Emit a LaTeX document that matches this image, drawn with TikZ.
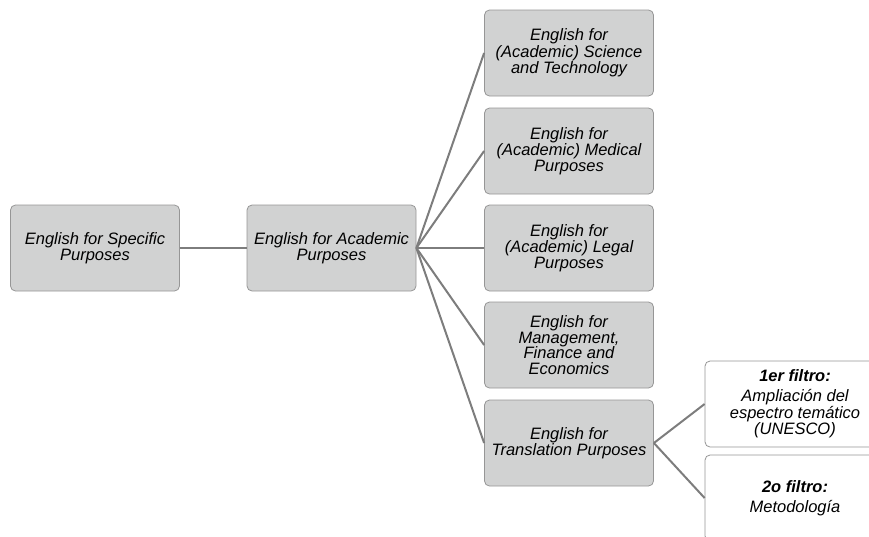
\documentclass[tikz,border=0pt]{standalone}
\usepackage{fontspec}
\setmainfont{Liberation Sans}
\usepackage{tikz}
\usetikzlibrary{calc}
\tikzset{>=latex}
\definecolor{boxfill}{RGB}{209,210,210}
\definecolor{boxline}{RGB}{150,150,150}
\definecolor{linkgray}{RGB}{125,125,125}

\begin{document}
\begin{tikzpicture}[x=1pt, y=-1pt,
  box/.style = {draw = boxline, fill = boxfill, line width = 0.8, rounded corners = 5pt,
    minimum width = 169pt, minimum height = 86pt, inner sep = 0pt, align = center,
    font = \fontsize{16.5}{14}\selectfont\itshape},
  filter/.style = {box, fill = white, minimum width = 180pt},
  link/.style = {draw = linkgray, line width = 2}]
\clip (0, 0) rectangle (869, 536);
\node[box] (esp) at (95, 248) {English for Specific\\Purposes};
\node[box] (eap) at (331.5, 248) {English for Academic\\Purposes};
\node[box] (st) at (569, 53) {English for\\(Academic) Science\\and Technology};
\node[box] (med) at (569, 151) {English for\\(Academic) Medical\\Purposes};
\node[box] (leg) at (569, 248) {English for\\(Academic) Legal\\Purposes};
\node[box, font = \fontsize{16.5}{15.5}\selectfont\itshape] (mfe) at (569, 345) {English for\\Management,\\Finance and\\Economics};
\node[box] (tp) at (569, 443) {English for\\Translation Purposes};
\node[filter] (f1) at (795, 404) {\textbf{1er filtro:}\\[6pt]Ampliación del\\espectro temático\\(UNESCO)};
\node[filter] (f2) at (795, 498) {\textbf{2o filtro:}\\[6pt]Metodología};
\draw[link] (esp.east) -- (eap.west);
\draw[link] (eap.east) -- (st.west);
\draw[link] (eap.east) -- (med.west);
\draw[link] (eap.east) -- (leg.west);
\draw[link] (eap.east) -- (mfe.west);
\draw[link] (eap.east) -- (tp.west);
\draw[link] (tp.east) -- (f1.west);
\draw[link] (tp.east) -- (f2.west);
\end{tikzpicture}
\end{document}
